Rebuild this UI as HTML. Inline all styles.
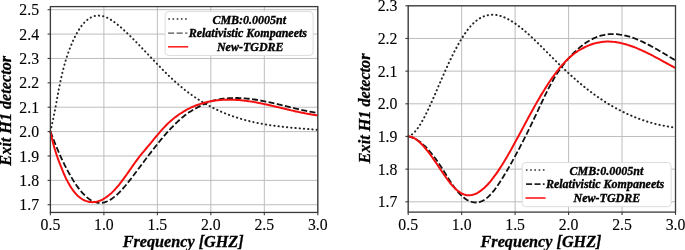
<!DOCTYPE html>
<html><head><meta charset="utf-8"><style>
html,body{margin:0;padding:0;background:#fff;}
body{width:685px;height:250px;overflow:hidden;}
svg{display:block;filter:blur(0.35px);}
.g{stroke:#bdbdbd;stroke-width:1;fill:none;}
.sp{fill:none;stroke:#3a3a3a;stroke-width:1.3;}
.tk{stroke:#3a3a3a;stroke-width:1.1;}
.tl{font-family:"Liberation Serif",serif;font-size:15.8px;fill:#000;stroke:#000;stroke-width:0.12;}
.at{font-family:"Liberation Serif",serif;font-size:16.2px;font-weight:bold;font-style:italic;fill:#000;stroke:#000;stroke-width:0.3;}
.lt{font-family:"Liberation Serif",serif;font-size:12px;font-weight:bold;font-style:italic;fill:#000;stroke:#000;stroke-width:0.35;}
.lg{fill:#fff;stroke:#dcdcdc;stroke-width:1;}
.dot{fill:none;stroke:#262626;stroke-width:2.0;stroke-dasharray:0.3 3.95;stroke-linecap:round;}
.dash{fill:none;stroke:#111;stroke-width:1.8;stroke-dasharray:6 2.4;}
.red{fill:none;stroke:#f51010;stroke-width:2.0;}
</style></head><body>
<svg width="685" height="250" viewBox="0 0 685 250">
<line x1="50.40" y1="6.60" x2="50.40" y2="212.45" class="g"/>
<line x1="103.88" y1="6.60" x2="103.88" y2="212.45" class="g"/>
<line x1="157.36" y1="6.60" x2="157.36" y2="212.45" class="g"/>
<line x1="210.84" y1="6.60" x2="210.84" y2="212.45" class="g"/>
<line x1="264.32" y1="6.60" x2="264.32" y2="212.45" class="g"/>
<line x1="317.80" y1="6.60" x2="317.80" y2="212.45" class="g"/>
<line x1="50.40" y1="9.70" x2="317.80" y2="9.70" class="g"/>
<line x1="50.40" y1="34.08" x2="317.80" y2="34.08" class="g"/>
<line x1="50.40" y1="58.46" x2="317.80" y2="58.46" class="g"/>
<line x1="50.40" y1="82.84" x2="317.80" y2="82.84" class="g"/>
<line x1="50.40" y1="107.22" x2="317.80" y2="107.22" class="g"/>
<line x1="50.40" y1="131.60" x2="317.80" y2="131.60" class="g"/>
<line x1="50.40" y1="155.98" x2="317.80" y2="155.98" class="g"/>
<line x1="50.40" y1="180.36" x2="317.80" y2="180.36" class="g"/>
<line x1="50.40" y1="204.74" x2="317.80" y2="204.74" class="g"/>
<line x1="408.20" y1="5.80" x2="408.20" y2="212.10" class="g"/>
<line x1="461.66" y1="5.80" x2="461.66" y2="212.10" class="g"/>
<line x1="515.12" y1="5.80" x2="515.12" y2="212.10" class="g"/>
<line x1="568.58" y1="5.80" x2="568.58" y2="212.10" class="g"/>
<line x1="622.04" y1="5.80" x2="622.04" y2="212.10" class="g"/>
<line x1="675.50" y1="5.80" x2="675.50" y2="212.10" class="g"/>
<line x1="408.20" y1="5.79" x2="675.50" y2="5.79" class="g"/>
<line x1="408.20" y1="38.46" x2="675.50" y2="38.46" class="g"/>
<line x1="408.20" y1="71.13" x2="675.50" y2="71.13" class="g"/>
<line x1="408.20" y1="103.80" x2="675.50" y2="103.80" class="g"/>
<line x1="408.20" y1="136.47" x2="675.50" y2="136.47" class="g"/>
<line x1="408.20" y1="169.14" x2="675.50" y2="169.14" class="g"/>
<line x1="408.20" y1="201.81" x2="675.50" y2="201.81" class="g"/>
<path d="M50.40,131.40 C50.65,130.31 51.40,127.13 51.90,124.88 C52.40,122.63 52.90,120.31 53.40,117.90 C53.90,115.50 54.40,113.02 54.90,110.46 C55.40,107.89 55.90,105.21 56.40,102.53 C56.90,99.85 57.40,97.05 57.90,94.38 C58.40,91.70 58.90,89.01 59.40,86.49 C59.90,83.97 60.40,81.55 60.90,79.26 C61.40,76.97 61.90,74.80 62.40,72.73 C62.90,70.66 63.40,68.70 63.90,66.83 C64.40,64.96 64.90,63.19 65.40,61.49 C65.90,59.80 66.40,58.20 66.90,56.66 C67.40,55.12 67.90,53.67 68.40,52.26 C68.90,50.86 69.40,49.53 69.90,48.24 C70.40,46.95 70.90,45.72 71.40,44.53 C71.90,43.33 72.40,42.18 72.90,41.08 C73.40,39.97 73.90,38.90 74.40,37.88 C74.90,36.85 75.40,35.87 75.90,34.93 C76.40,33.98 76.90,33.08 77.40,32.21 C77.90,31.35 78.40,30.52 78.90,29.73 C79.40,28.95 79.90,28.20 80.40,27.48 C80.90,26.77 81.40,26.09 81.90,25.45 C82.40,24.80 82.90,24.20 83.40,23.63 C83.90,23.05 84.40,22.51 84.90,22.01 C85.40,21.50 85.90,21.03 86.40,20.59 C86.90,20.15 87.40,19.75 87.90,19.37 C88.40,18.99 88.90,18.65 89.40,18.33 C89.90,18.01 90.40,17.73 90.90,17.47 C91.40,17.21 91.90,16.98 92.40,16.78 C92.90,16.58 93.40,16.40 93.90,16.26 C94.40,16.11 94.90,15.99 95.40,15.89 C95.90,15.80 96.40,15.73 96.90,15.68 C97.40,15.63 97.90,15.61 98.40,15.61 C98.90,15.61 99.40,15.64 99.90,15.68 C100.40,15.73 100.90,15.80 101.40,15.88 C101.90,15.97 102.40,16.08 102.90,16.21 C103.40,16.34 103.90,16.49 104.40,16.65 C104.90,16.82 105.40,17.01 105.90,17.21 C106.40,17.41 106.90,17.63 107.40,17.87 C107.90,18.11 108.40,18.36 108.90,18.63 C109.40,18.90 109.90,19.18 110.40,19.48 C110.90,19.77 111.40,20.09 111.90,20.41 C112.40,20.73 112.90,21.07 113.40,21.42 C113.90,21.77 114.40,22.13 114.90,22.50 C115.40,22.87 115.90,23.26 116.40,23.65 C116.90,24.04 117.40,24.44 117.90,24.85 C118.40,25.26 118.90,25.68 119.40,26.10 C119.90,26.53 120.40,26.96 120.90,27.40 C121.40,27.84 121.90,28.28 122.40,28.73 C122.90,29.18 123.40,29.64 123.90,30.10 C124.40,30.56 124.90,31.02 125.40,31.49 C125.90,31.95 126.40,32.42 126.90,32.90 C127.40,33.37 127.90,33.85 128.40,34.33 C128.90,34.81 129.40,35.30 129.90,35.78 C130.40,36.27 130.90,36.76 131.40,37.26 C131.90,37.75 132.40,38.25 132.90,38.75 C133.40,39.25 133.90,39.75 134.40,40.25 C134.90,40.76 135.40,41.26 135.90,41.77 C136.40,42.28 136.90,42.79 137.40,43.30 C137.90,43.81 138.40,44.33 138.90,44.85 C139.40,45.36 139.90,45.88 140.40,46.40 C140.90,46.92 141.40,47.44 141.90,47.96 C142.40,48.48 142.90,49.00 143.40,49.53 C143.90,50.05 144.40,50.58 144.90,51.10 C145.40,51.63 145.90,52.15 146.40,52.68 C146.90,53.20 147.40,53.73 147.90,54.26 C148.40,54.78 148.90,55.31 149.40,55.84 C149.90,56.37 150.40,56.89 150.90,57.42 C151.40,57.94 151.90,58.47 152.40,59.00 C152.90,59.52 153.40,60.05 153.90,60.57 C154.40,61.10 154.90,61.62 155.40,62.14 C155.90,62.66 156.40,63.18 156.90,63.70 C157.40,64.22 157.90,64.74 158.40,65.26 C158.90,65.78 159.40,66.29 159.90,66.80 C160.40,67.32 160.90,67.83 161.40,68.34 C161.90,68.85 162.40,69.36 162.90,69.86 C163.40,70.37 163.90,70.87 164.40,71.37 C164.90,71.87 165.40,72.37 165.90,72.87 C166.40,73.36 166.90,73.85 167.40,74.34 C167.90,74.83 168.40,75.32 168.90,75.80 C169.40,76.28 169.90,76.76 170.40,77.24 C170.90,77.72 171.40,78.19 171.90,78.66 C172.40,79.13 172.90,79.59 173.40,80.05 C173.90,80.51 174.40,80.97 174.90,81.42 C175.40,81.88 175.90,82.32 176.40,82.77 C176.90,83.21 177.40,83.65 177.90,84.09 C178.40,84.52 178.90,84.95 179.40,85.38 C179.90,85.80 180.40,86.23 180.90,86.64 C181.40,87.06 181.90,87.47 182.40,87.88 C182.90,88.29 183.40,88.69 183.90,89.09 C184.40,89.49 184.90,89.89 185.40,90.28 C185.90,90.67 186.40,91.06 186.90,91.44 C187.40,91.82 187.90,92.20 188.40,92.58 C188.90,92.95 189.40,93.32 189.90,93.69 C190.40,94.06 190.90,94.42 191.40,94.78 C191.90,95.13 192.40,95.49 192.90,95.84 C193.40,96.19 193.90,96.53 194.40,96.88 C194.90,97.22 195.40,97.56 195.90,97.89 C196.40,98.23 196.90,98.56 197.40,98.88 C197.90,99.21 198.40,99.53 198.90,99.85 C199.40,100.17 199.90,100.49 200.40,100.80 C200.90,101.11 201.40,101.42 201.90,101.72 C202.40,102.02 202.90,102.32 203.40,102.62 C203.90,102.92 204.40,103.21 204.90,103.50 C205.40,103.79 205.90,104.08 206.40,104.36 C206.90,104.64 207.40,104.92 207.90,105.20 C208.40,105.47 208.90,105.74 209.40,106.01 C209.90,106.28 210.40,106.54 210.90,106.81 C211.40,107.07 211.90,107.33 212.40,107.58 C212.90,107.84 213.40,108.09 213.90,108.34 C214.40,108.58 214.90,108.83 215.40,109.07 C215.90,109.31 216.40,109.55 216.90,109.79 C217.40,110.02 217.90,110.26 218.40,110.48 C218.90,110.71 219.40,110.94 219.90,111.16 C220.40,111.39 220.90,111.61 221.40,111.82 C221.90,112.04 222.40,112.25 222.90,112.46 C223.40,112.68 223.90,112.88 224.40,113.09 C224.90,113.29 225.40,113.50 225.90,113.70 C226.40,113.89 226.90,114.09 227.40,114.28 C227.90,114.48 228.40,114.67 228.90,114.86 C229.40,115.05 229.90,115.23 230.40,115.41 C230.90,115.60 231.40,115.78 231.90,115.95 C232.40,116.13 232.90,116.30 233.40,116.48 C233.90,116.65 234.40,116.82 234.90,116.98 C235.40,117.15 235.90,117.32 236.40,117.48 C236.90,117.64 237.40,117.80 237.90,117.95 C238.40,118.11 238.90,118.27 239.40,118.42 C239.90,118.57 240.40,118.72 240.90,118.87 C241.40,119.01 241.90,119.16 242.40,119.30 C242.90,119.44 243.40,119.58 243.90,119.72 C244.40,119.86 244.90,119.99 245.40,120.13 C245.90,120.26 246.40,120.39 246.90,120.52 C247.40,120.65 247.90,120.78 248.40,120.90 C248.90,121.03 249.40,121.15 249.90,121.27 C250.40,121.39 250.90,121.51 251.40,121.63 C251.90,121.74 252.40,121.86 252.90,121.97 C253.40,122.08 253.90,122.19 254.40,122.30 C254.90,122.41 255.40,122.52 255.90,122.62 C256.40,122.73 256.90,122.83 257.40,122.93 C257.90,123.03 258.40,123.13 258.90,123.23 C259.40,123.33 259.90,123.43 260.40,123.52 C260.90,123.61 261.40,123.71 261.90,123.80 C262.40,123.89 262.90,123.98 263.40,124.07 C263.90,124.15 264.40,124.24 264.90,124.33 C265.40,124.41 265.90,124.49 266.40,124.58 C266.90,124.66 267.40,124.74 267.90,124.82 C268.40,124.90 268.90,124.97 269.40,125.05 C269.90,125.13 270.40,125.20 270.90,125.27 C271.40,125.35 271.90,125.42 272.40,125.49 C272.90,125.56 273.40,125.63 273.90,125.70 C274.40,125.77 274.90,125.83 275.40,125.90 C275.90,125.96 276.40,126.03 276.90,126.09 C277.40,126.16 277.90,126.22 278.40,126.28 C278.90,126.34 279.40,126.40 279.90,126.46 C280.40,126.52 280.90,126.58 281.40,126.63 C281.90,126.69 282.40,126.75 282.90,126.80 C283.40,126.86 283.90,126.91 284.40,126.97 C284.90,127.02 285.40,127.07 285.90,127.12 C286.40,127.18 286.90,127.23 287.40,127.28 C287.90,127.33 288.40,127.38 288.90,127.43 C289.40,127.47 289.90,127.52 290.40,127.57 C290.90,127.62 291.40,127.66 291.90,127.71 C292.40,127.76 292.90,127.80 293.40,127.85 C293.90,127.89 294.40,127.93 294.90,127.98 C295.40,128.02 295.90,128.06 296.40,128.11 C296.90,128.15 297.40,128.19 297.90,128.23 C298.40,128.28 298.90,128.32 299.40,128.36 C299.90,128.40 300.40,128.44 300.90,128.48 C301.40,128.52 301.90,128.56 302.40,128.60 C302.90,128.64 303.40,128.68 303.90,128.72 C304.40,128.76 304.90,128.80 305.40,128.84 C305.90,128.88 306.40,128.92 306.90,128.95 C307.40,128.99 307.90,129.03 308.40,129.07 C308.90,129.11 309.40,129.15 309.90,129.19 C310.40,129.22 310.90,129.26 311.40,129.30 C311.90,129.34 312.40,129.38 312.90,129.42 C313.40,129.46 313.90,129.50 314.40,129.53 C314.90,129.57 315.40,129.61 315.90,129.65 C316.40,129.69 317.08,129.75 317.40,129.77 C317.72,129.80 317.73,129.80 317.80,129.80" class="dot"/>
<path d="M50.40,131.40 C50.65,132.06 51.40,134.08 51.90,135.39 C52.40,136.70 52.90,137.99 53.40,139.26 C53.90,140.53 54.40,141.79 54.90,143.03 C55.40,144.27 55.90,145.48 56.40,146.69 C56.90,147.89 57.40,149.07 57.90,150.24 C58.40,151.40 58.90,152.55 59.40,153.68 C59.90,154.81 60.40,155.92 60.90,157.01 C61.40,158.11 61.90,159.19 62.40,160.24 C62.90,161.30 63.40,162.34 63.90,163.37 C64.40,164.39 64.90,165.40 65.40,166.38 C65.90,167.37 66.40,168.34 66.90,169.29 C67.40,170.24 67.90,171.18 68.40,172.10 C68.90,173.01 69.40,173.91 69.90,174.79 C70.40,175.67 70.90,176.53 71.40,177.38 C71.90,178.22 72.40,179.05 72.90,179.86 C73.40,180.67 73.90,181.46 74.40,182.23 C74.90,183.00 75.40,183.75 75.90,184.49 C76.40,185.22 76.90,185.93 77.40,186.63 C77.90,187.32 78.40,187.99 78.90,188.65 C79.40,189.30 79.90,189.93 80.40,190.54 C80.90,191.16 81.40,191.75 81.90,192.32 C82.40,192.89 82.90,193.43 83.40,193.96 C83.90,194.49 84.40,194.99 84.90,195.47 C85.40,195.96 85.90,196.42 86.40,196.85 C86.90,197.29 87.40,197.71 87.90,198.10 C88.40,198.49 88.90,198.86 89.40,199.20 C89.90,199.54 90.40,199.86 90.90,200.16 C91.40,200.46 91.90,200.73 92.40,200.97 C92.90,201.22 93.40,201.44 93.90,201.64 C94.40,201.84 94.90,202.01 95.40,202.16 C95.90,202.30 96.40,202.43 96.90,202.53 C97.40,202.63 97.90,202.70 98.40,202.75 C98.90,202.81 99.40,202.83 99.90,202.84 C100.40,202.85 100.90,202.83 101.40,202.79 C101.90,202.75 102.40,202.68 102.90,202.60 C103.40,202.51 103.90,202.40 104.40,202.27 C104.90,202.14 105.40,201.99 105.90,201.81 C106.40,201.64 106.90,201.44 107.40,201.23 C107.90,201.01 108.40,200.77 108.90,200.51 C109.40,200.25 109.90,199.97 110.40,199.67 C110.90,199.37 111.40,199.05 111.90,198.71 C112.40,198.38 112.90,198.02 113.40,197.64 C113.90,197.27 114.40,196.87 114.90,196.46 C115.40,196.05 115.90,195.62 116.40,195.18 C116.90,194.73 117.40,194.27 117.90,193.80 C118.40,193.33 118.90,192.84 119.40,192.33 C119.90,191.83 120.40,191.31 120.90,190.78 C121.40,190.25 121.90,189.71 122.40,189.16 C122.90,188.60 123.40,188.04 123.90,187.46 C124.40,186.89 124.90,186.30 125.40,185.71 C125.90,185.11 126.40,184.51 126.90,183.89 C127.40,183.28 127.90,182.66 128.40,182.03 C128.90,181.41 129.40,180.77 129.90,180.13 C130.40,179.49 130.90,178.84 131.40,178.19 C131.90,177.54 132.40,176.89 132.90,176.23 C133.40,175.57 133.90,174.91 134.40,174.25 C134.90,173.58 135.40,172.92 135.90,172.25 C136.40,171.59 136.90,170.92 137.40,170.25 C137.90,169.58 138.40,168.91 138.90,168.25 C139.40,167.58 139.90,166.91 140.40,166.24 C140.90,165.58 141.40,164.91 141.90,164.24 C142.40,163.58 142.90,162.91 143.40,162.24 C143.90,161.58 144.40,160.92 144.90,160.25 C145.40,159.59 145.90,158.93 146.40,158.27 C146.90,157.61 147.40,156.95 147.90,156.29 C148.40,155.63 148.90,154.98 149.40,154.32 C149.90,153.67 150.40,153.02 150.90,152.37 C151.40,151.72 151.90,151.07 152.40,150.43 C152.90,149.78 153.40,149.14 153.90,148.50 C154.40,147.86 154.90,147.23 155.40,146.59 C155.90,145.96 156.40,145.33 156.90,144.71 C157.40,144.08 157.90,143.46 158.40,142.84 C158.90,142.22 159.40,141.61 159.90,141.00 C160.40,140.38 160.90,139.78 161.40,139.18 C161.90,138.58 162.40,137.98 162.90,137.39 C163.40,136.79 163.90,136.20 164.40,135.62 C164.90,135.04 165.40,134.46 165.90,133.89 C166.40,133.32 166.90,132.75 167.40,132.19 C167.90,131.63 168.40,131.08 168.90,130.53 C169.40,129.98 169.90,129.43 170.40,128.90 C170.90,128.36 171.40,127.83 171.90,127.31 C172.40,126.78 172.90,126.27 173.40,125.76 C173.90,125.25 174.40,124.74 174.90,124.25 C175.40,123.75 175.90,123.27 176.40,122.78 C176.90,122.30 177.40,121.83 177.90,121.37 C178.40,120.90 178.90,120.44 179.40,119.99 C179.90,119.55 180.40,119.11 180.90,118.67 C181.40,118.24 181.90,117.82 182.40,117.40 C182.90,116.99 183.40,116.58 183.90,116.19 C184.40,115.79 184.90,115.40 185.40,115.02 C185.90,114.65 186.40,114.28 186.90,113.92 C187.40,113.56 187.90,113.20 188.40,112.86 C188.90,112.51 189.40,112.18 189.90,111.85 C190.40,111.52 190.90,111.20 191.40,110.89 C191.90,110.57 192.40,110.27 192.90,109.97 C193.40,109.66 193.90,109.37 194.40,109.08 C194.90,108.80 195.40,108.51 195.90,108.24 C196.40,107.96 196.90,107.69 197.40,107.43 C197.90,107.16 198.40,106.90 198.90,106.64 C199.40,106.39 199.90,106.14 200.40,105.89 C200.90,105.64 201.40,105.40 201.90,105.16 C202.40,104.92 202.90,104.68 203.40,104.45 C203.90,104.22 204.40,103.99 204.90,103.76 C205.40,103.53 205.90,103.31 206.40,103.10 C206.90,102.88 207.40,102.67 207.90,102.47 C208.40,102.27 208.90,102.08 209.40,101.89 C209.90,101.71 210.40,101.54 210.90,101.37 C211.40,101.20 211.90,101.05 212.40,100.90 C212.90,100.75 213.40,100.61 213.90,100.48 C214.40,100.34 214.90,100.22 215.40,100.10 C215.90,99.98 216.40,99.87 216.90,99.76 C217.40,99.65 217.90,99.55 218.40,99.46 C218.90,99.37 219.40,99.28 219.90,99.19 C220.40,99.11 220.90,99.03 221.40,98.96 C221.90,98.88 222.40,98.81 222.90,98.75 C223.40,98.68 223.90,98.62 224.40,98.56 C224.90,98.51 225.40,98.46 225.90,98.41 C226.40,98.36 226.90,98.32 227.40,98.28 C227.90,98.24 228.40,98.20 228.90,98.17 C229.40,98.14 229.90,98.11 230.40,98.09 C230.90,98.06 231.40,98.04 231.90,98.03 C232.40,98.01 232.90,98.00 233.40,97.99 C233.90,97.98 234.40,97.98 234.90,97.97 C235.40,97.97 235.90,97.98 236.40,97.98 C236.90,97.99 237.40,98.00 237.90,98.01 C238.40,98.02 238.90,98.04 239.40,98.06 C239.90,98.08 240.40,98.10 240.90,98.12 C241.40,98.15 241.90,98.18 242.40,98.21 C242.90,98.24 243.40,98.28 243.90,98.31 C244.40,98.35 244.90,98.39 245.40,98.44 C245.90,98.48 246.40,98.53 246.90,98.58 C247.40,98.63 247.90,98.68 248.40,98.73 C248.90,98.79 249.40,98.85 249.90,98.91 C250.40,98.97 250.90,99.03 251.40,99.09 C251.90,99.16 252.40,99.22 252.90,99.29 C253.40,99.36 253.90,99.44 254.40,99.51 C254.90,99.58 255.40,99.66 255.90,99.74 C256.40,99.82 256.90,99.90 257.40,99.98 C257.90,100.06 258.40,100.15 258.90,100.24 C259.40,100.32 259.90,100.41 260.40,100.50 C260.90,100.59 261.40,100.68 261.90,100.78 C262.40,100.87 262.90,100.97 263.40,101.06 C263.90,101.16 264.40,101.26 264.90,101.36 C265.40,101.46 265.90,101.56 266.40,101.67 C266.90,101.77 267.40,101.87 267.90,101.98 C268.40,102.09 268.90,102.19 269.40,102.30 C269.90,102.41 270.40,102.52 270.90,102.63 C271.40,102.74 271.90,102.85 272.40,102.96 C272.90,103.08 273.40,103.19 273.90,103.31 C274.40,103.42 274.90,103.54 275.40,103.65 C275.90,103.77 276.40,103.89 276.90,104.00 C277.40,104.12 277.90,104.24 278.40,104.36 C278.90,104.48 279.40,104.60 279.90,104.72 C280.40,104.84 280.90,104.96 281.40,105.08 C281.90,105.20 282.40,105.32 282.90,105.44 C283.40,105.56 283.90,105.68 284.40,105.80 C284.90,105.93 285.40,106.05 285.90,106.17 C286.40,106.29 286.90,106.41 287.40,106.54 C287.90,106.66 288.40,106.78 288.90,106.90 C289.40,107.02 289.90,107.14 290.40,107.26 C290.90,107.39 291.40,107.51 291.90,107.63 C292.40,107.75 292.90,107.87 293.40,107.99 C293.90,108.11 294.40,108.23 294.90,108.35 C295.40,108.46 295.90,108.58 296.40,108.70 C296.90,108.82 297.40,108.93 297.90,109.05 C298.40,109.16 298.90,109.28 299.40,109.39 C299.90,109.51 300.40,109.62 300.90,109.73 C301.40,109.85 301.90,109.96 302.40,110.07 C302.90,110.18 303.40,110.29 303.90,110.39 C304.40,110.50 304.90,110.61 305.40,110.71 C305.90,110.82 306.40,110.92 306.90,111.03 C307.40,111.13 307.90,111.23 308.40,111.33 C308.90,111.43 309.40,111.53 309.90,111.62 C310.40,111.72 310.90,111.82 311.40,111.91 C311.90,112.00 312.40,112.09 312.90,112.18 C313.40,112.27 313.90,112.36 314.40,112.45 C314.90,112.53 315.40,112.62 315.90,112.70 C316.40,112.78 317.08,112.89 317.40,112.94 C317.72,112.99 317.73,112.99 317.80,113.00" class="dash"/>
<path d="M50.40,131.40 C50.65,132.54 51.40,136.09 51.90,138.23 C52.40,140.36 52.90,142.33 53.40,144.21 C53.90,146.09 54.40,147.82 54.90,149.49 C55.40,151.16 55.90,152.71 56.40,154.22 C56.90,155.73 57.40,157.15 57.90,158.54 C58.40,159.94 58.90,161.27 59.40,162.59 C59.90,163.92 60.40,165.21 60.90,166.48 C61.40,167.75 61.90,169.00 62.40,170.20 C62.90,171.41 63.40,172.60 63.90,173.74 C64.40,174.89 64.90,176.00 65.40,177.07 C65.90,178.14 66.40,179.18 66.90,180.17 C67.40,181.16 67.90,182.12 68.40,183.03 C68.90,183.94 69.40,184.81 69.90,185.64 C70.40,186.48 70.90,187.27 71.40,188.03 C71.90,188.78 72.40,189.50 72.90,190.19 C73.40,190.87 73.90,191.52 74.40,192.14 C74.90,192.75 75.40,193.33 75.90,193.88 C76.40,194.43 76.90,194.94 77.40,195.43 C77.90,195.91 78.40,196.37 78.90,196.79 C79.40,197.22 79.90,197.61 80.40,197.98 C80.90,198.34 81.40,198.68 81.90,199.00 C82.40,199.31 82.90,199.60 83.40,199.86 C83.90,200.12 84.40,200.36 84.90,200.57 C85.40,200.79 85.90,200.98 86.40,201.15 C86.90,201.32 87.40,201.46 87.90,201.59 C88.40,201.71 88.90,201.82 89.40,201.90 C89.90,201.99 90.40,202.05 90.90,202.09 C91.40,202.13 91.90,202.16 92.40,202.16 C92.90,202.16 93.40,202.14 93.90,202.10 C94.40,202.06 94.90,202.00 95.40,201.92 C95.90,201.84 96.40,201.75 96.90,201.63 C97.40,201.51 97.90,201.37 98.40,201.22 C98.90,201.06 99.40,200.88 99.90,200.69 C100.40,200.50 100.90,200.28 101.40,200.05 C101.90,199.82 102.40,199.57 102.90,199.30 C103.40,199.04 103.90,198.75 104.40,198.45 C104.90,198.15 105.40,197.82 105.90,197.49 C106.40,197.15 106.90,196.79 107.40,196.42 C107.90,196.05 108.40,195.66 108.90,195.25 C109.40,194.84 109.90,194.42 110.40,193.98 C110.90,193.54 111.40,193.09 111.90,192.61 C112.40,192.14 112.90,191.65 113.40,191.15 C113.90,190.65 114.40,190.13 114.90,189.59 C115.40,189.06 115.90,188.51 116.40,187.94 C116.90,187.37 117.40,186.79 117.90,186.20 C118.40,185.60 118.90,184.99 119.40,184.37 C119.90,183.74 120.40,183.11 120.90,182.46 C121.40,181.81 121.90,181.14 122.40,180.47 C122.90,179.80 123.40,179.12 123.90,178.43 C124.40,177.74 124.90,177.04 125.40,176.33 C125.90,175.63 126.40,174.92 126.90,174.21 C127.40,173.49 127.90,172.78 128.40,172.06 C128.90,171.34 129.40,170.62 129.90,169.90 C130.40,169.18 130.90,168.45 131.40,167.73 C131.90,167.02 132.40,166.30 132.90,165.59 C133.40,164.87 133.90,164.17 134.40,163.46 C134.90,162.76 135.40,162.07 135.90,161.38 C136.40,160.69 136.90,160.01 137.40,159.34 C137.90,158.67 138.40,158.01 138.90,157.37 C139.40,156.72 139.90,156.09 140.40,155.46 C140.90,154.84 141.40,154.22 141.90,153.61 C142.40,153.01 142.90,152.41 143.40,151.81 C143.90,151.21 144.40,150.62 144.90,150.03 C145.40,149.44 145.90,148.85 146.40,148.26 C146.90,147.67 147.40,147.08 147.90,146.48 C148.40,145.89 148.90,145.29 149.40,144.68 C149.90,144.08 150.40,143.47 150.90,142.87 C151.40,142.26 151.90,141.65 152.40,141.04 C152.90,140.43 153.40,139.82 153.90,139.21 C154.40,138.61 154.90,138.00 155.40,137.39 C155.90,136.79 156.40,136.19 156.90,135.59 C157.40,134.99 157.90,134.39 158.40,133.81 C158.90,133.22 159.40,132.63 159.90,132.05 C160.40,131.48 160.90,130.91 161.40,130.34 C161.90,129.78 162.40,129.23 162.90,128.68 C163.40,128.13 163.90,127.60 164.40,127.07 C164.90,126.55 165.40,126.03 165.90,125.53 C166.40,125.02 166.90,124.53 167.40,124.05 C167.90,123.57 168.40,123.09 168.90,122.63 C169.40,122.17 169.90,121.71 170.40,121.27 C170.90,120.83 171.40,120.39 171.90,119.97 C172.40,119.55 172.90,119.13 173.40,118.73 C173.90,118.32 174.40,117.92 174.90,117.53 C175.40,117.15 175.90,116.77 176.40,116.40 C176.90,116.02 177.40,115.66 177.90,115.31 C178.40,114.95 178.90,114.61 179.40,114.27 C179.90,113.93 180.40,113.60 180.90,113.27 C181.40,112.95 181.90,112.63 182.40,112.32 C182.90,112.01 183.40,111.71 183.90,111.41 C184.40,111.12 184.90,110.83 185.40,110.55 C185.90,110.26 186.40,109.99 186.90,109.72 C187.40,109.45 187.90,109.18 188.40,108.93 C188.90,108.67 189.40,108.42 189.90,108.17 C190.40,107.93 190.90,107.69 191.40,107.46 C191.90,107.23 192.40,107.00 192.90,106.78 C193.40,106.56 193.90,106.34 194.40,106.14 C194.90,105.93 195.40,105.72 195.90,105.53 C196.40,105.33 196.90,105.14 197.40,104.95 C197.90,104.77 198.40,104.59 198.90,104.41 C199.40,104.24 199.90,104.07 200.40,103.91 C200.90,103.74 201.40,103.58 201.90,103.43 C202.40,103.28 202.90,103.13 203.40,102.99 C203.90,102.84 204.40,102.71 204.90,102.57 C205.40,102.44 205.90,102.31 206.40,102.19 C206.90,102.07 207.40,101.95 207.90,101.84 C208.40,101.73 208.90,101.62 209.40,101.52 C209.90,101.41 210.40,101.31 210.90,101.22 C211.40,101.13 211.90,101.04 212.40,100.95 C212.90,100.87 213.40,100.79 213.90,100.71 C214.40,100.63 214.90,100.56 215.40,100.50 C215.90,100.43 216.40,100.37 216.90,100.31 C217.40,100.25 217.90,100.19 218.40,100.14 C218.90,100.09 219.40,100.04 219.90,100.00 C220.40,99.96 220.90,99.92 221.40,99.89 C221.90,99.85 222.40,99.82 222.90,99.79 C223.40,99.76 223.90,99.74 224.40,99.72 C224.90,99.70 225.40,99.68 225.90,99.67 C226.40,99.66 226.90,99.65 227.40,99.64 C227.90,99.64 228.40,99.63 228.90,99.63 C229.40,99.63 229.90,99.64 230.40,99.65 C230.90,99.65 231.40,99.66 231.90,99.68 C232.40,99.69 232.90,99.71 233.40,99.73 C233.90,99.75 234.40,99.77 234.90,99.80 C235.40,99.82 235.90,99.85 236.40,99.89 C236.90,99.92 237.40,99.95 237.90,99.99 C238.40,100.03 238.90,100.07 239.40,100.11 C239.90,100.15 240.40,100.20 240.90,100.25 C241.40,100.30 241.90,100.35 242.40,100.40 C242.90,100.46 243.40,100.51 243.90,100.57 C244.40,100.63 244.90,100.69 245.40,100.75 C245.90,100.82 246.40,100.88 246.90,100.95 C247.40,101.02 247.90,101.09 248.40,101.16 C248.90,101.23 249.40,101.30 249.90,101.38 C250.40,101.46 250.90,101.53 251.40,101.61 C251.90,101.69 252.40,101.78 252.90,101.86 C253.40,101.94 253.90,102.03 254.40,102.12 C254.90,102.21 255.40,102.29 255.90,102.39 C256.40,102.48 256.90,102.57 257.40,102.66 C257.90,102.76 258.40,102.85 258.90,102.95 C259.40,103.05 259.90,103.15 260.40,103.24 C260.90,103.34 261.40,103.45 261.90,103.55 C262.40,103.65 262.90,103.76 263.40,103.86 C263.90,103.96 264.40,104.07 264.90,104.18 C265.40,104.29 265.90,104.39 266.40,104.50 C266.90,104.61 267.40,104.72 267.90,104.83 C268.40,104.94 268.90,105.06 269.40,105.17 C269.90,105.28 270.40,105.40 270.90,105.51 C271.40,105.63 271.90,105.74 272.40,105.86 C272.90,105.97 273.40,106.09 273.90,106.20 C274.40,106.32 274.90,106.44 275.40,106.56 C275.90,106.67 276.40,106.79 276.90,106.91 C277.40,107.03 277.90,107.15 278.40,107.27 C278.90,107.39 279.40,107.51 279.90,107.62 C280.40,107.74 280.90,107.86 281.40,107.98 C281.90,108.10 282.40,108.22 282.90,108.34 C283.40,108.46 283.90,108.58 284.40,108.70 C284.90,108.82 285.40,108.94 285.90,109.06 C286.40,109.18 286.90,109.29 287.40,109.41 C287.90,109.53 288.40,109.65 288.90,109.77 C289.40,109.88 289.90,110.00 290.40,110.12 C290.90,110.23 291.40,110.35 291.90,110.47 C292.40,110.58 292.90,110.70 293.40,110.81 C293.90,110.92 294.40,111.04 294.90,111.15 C295.40,111.26 295.90,111.37 296.40,111.49 C296.90,111.60 297.40,111.71 297.90,111.82 C298.40,111.92 298.90,112.03 299.40,112.14 C299.90,112.25 300.40,112.35 300.90,112.46 C301.40,112.56 301.90,112.66 302.40,112.77 C302.90,112.87 303.40,112.97 303.90,113.07 C304.40,113.17 304.90,113.27 305.40,113.36 C305.90,113.46 306.40,113.55 306.90,113.65 C307.40,113.74 307.90,113.83 308.40,113.92 C308.90,114.01 309.40,114.10 309.90,114.19 C310.40,114.27 310.90,114.36 311.40,114.44 C311.90,114.53 312.40,114.61 312.90,114.69 C313.40,114.77 313.90,114.84 314.40,114.92 C314.90,114.99 315.40,115.07 315.90,115.14 C316.40,115.21 317.08,115.30 317.40,115.35 C317.72,115.39 317.73,115.39 317.80,115.40" class="red"/>
<path d="M408.20,136.41 C408.45,136.32 409.20,136.11 409.70,135.88 C410.20,135.65 410.70,135.37 411.20,135.04 C411.70,134.71 412.20,134.33 412.70,133.91 C413.20,133.49 413.70,133.02 414.20,132.51 C414.70,132.00 415.20,131.45 415.70,130.86 C416.20,130.27 416.70,129.63 417.20,128.96 C417.70,128.30 418.20,127.59 418.70,126.85 C419.20,126.11 419.70,125.34 420.20,124.53 C420.70,123.73 421.20,122.89 421.70,122.03 C422.20,121.16 422.70,120.27 423.20,119.35 C423.70,118.43 424.20,117.49 424.70,116.52 C425.20,115.56 425.70,114.57 426.20,113.56 C426.70,112.55 427.20,111.52 427.70,110.48 C428.20,109.43 428.70,108.37 429.20,107.29 C429.70,106.22 430.20,105.13 430.70,104.02 C431.20,102.92 431.70,101.81 432.20,100.69 C432.70,99.56 433.20,98.43 433.70,97.29 C434.20,96.15 434.70,95.00 435.20,93.85 C435.70,92.70 436.20,91.54 436.70,90.39 C437.20,89.23 437.70,88.06 438.20,86.90 C438.70,85.74 439.20,84.58 439.70,83.42 C440.20,82.26 440.70,81.10 441.20,79.94 C441.70,78.79 442.20,77.63 442.70,76.49 C443.20,75.35 443.70,74.21 444.20,73.08 C444.70,71.95 445.20,70.82 445.70,69.71 C446.20,68.60 446.70,67.50 447.20,66.41 C447.70,65.32 448.20,64.24 448.70,63.18 C449.20,62.11 449.70,61.05 450.20,60.01 C450.70,58.97 451.20,57.94 451.70,56.92 C452.20,55.90 452.70,54.90 453.20,53.91 C453.70,52.92 454.20,51.94 454.70,50.98 C455.20,50.02 455.70,49.07 456.20,48.14 C456.70,47.21 457.20,46.29 457.70,45.39 C458.20,44.49 458.70,43.61 459.20,42.74 C459.70,41.88 460.20,41.03 460.70,40.19 C461.20,39.36 461.70,38.55 462.20,37.75 C462.70,36.96 463.20,36.18 463.70,35.42 C464.20,34.66 464.70,33.93 465.20,33.21 C465.70,32.49 466.20,31.79 466.70,31.11 C467.20,30.43 467.70,29.78 468.20,29.14 C468.70,28.50 469.20,27.89 469.70,27.30 C470.20,26.71 470.70,26.14 471.20,25.59 C471.70,25.04 472.20,24.52 472.70,24.02 C473.20,23.51 473.70,23.04 474.20,22.58 C474.70,22.12 475.20,21.69 475.70,21.27 C476.20,20.86 476.70,20.47 477.20,20.10 C477.70,19.73 478.20,19.38 478.70,19.05 C479.20,18.72 479.70,18.41 480.20,18.12 C480.70,17.83 481.20,17.56 481.70,17.31 C482.20,17.06 482.70,16.83 483.20,16.62 C483.70,16.41 484.20,16.22 484.70,16.04 C485.20,15.87 485.70,15.71 486.20,15.58 C486.70,15.44 487.20,15.32 487.70,15.21 C488.20,15.11 488.70,15.02 489.20,14.95 C489.70,14.88 490.20,14.83 490.70,14.79 C491.20,14.76 491.70,14.74 492.20,14.73 C492.70,14.73 493.20,14.74 493.70,14.76 C494.20,14.79 494.70,14.83 495.20,14.88 C495.70,14.94 496.20,15.01 496.70,15.09 C497.20,15.17 497.70,15.27 498.20,15.38 C498.70,15.49 499.20,15.62 499.70,15.76 C500.20,15.89 500.70,16.04 501.20,16.21 C501.70,16.37 502.20,16.54 502.70,16.73 C503.20,16.92 503.70,17.11 504.20,17.32 C504.70,17.53 505.20,17.76 505.70,17.99 C506.20,18.22 506.70,18.46 507.20,18.71 C507.70,18.97 508.20,19.23 508.70,19.50 C509.20,19.77 509.70,20.06 510.20,20.35 C510.70,20.64 511.20,20.94 511.70,21.25 C512.20,21.56 512.70,21.87 513.20,22.20 C513.70,22.53 514.20,22.86 514.70,23.20 C515.20,23.54 515.70,23.89 516.20,24.25 C516.70,24.60 517.20,24.96 517.70,25.33 C518.20,25.70 518.70,26.08 519.20,26.47 C519.70,26.85 520.20,27.24 520.70,27.63 C521.20,28.03 521.70,28.43 522.20,28.84 C522.70,29.25 523.20,29.66 523.70,30.08 C524.20,30.50 524.70,30.93 525.20,31.36 C525.70,31.79 526.20,32.22 526.70,32.66 C527.20,33.10 527.70,33.55 528.20,33.99 C528.70,34.44 529.20,34.90 529.70,35.35 C530.20,35.81 530.70,36.27 531.20,36.74 C531.70,37.20 532.20,37.67 532.70,38.14 C533.20,38.62 533.70,39.09 534.20,39.57 C534.70,40.05 535.20,40.53 535.70,41.01 C536.20,41.50 536.70,41.98 537.20,42.47 C537.70,42.96 538.20,43.45 538.70,43.95 C539.20,44.44 539.70,44.93 540.20,45.43 C540.70,45.93 541.20,46.43 541.70,46.93 C542.20,47.42 542.70,47.93 543.20,48.43 C543.70,48.93 544.20,49.43 544.70,49.93 C545.20,50.44 545.70,50.94 546.20,51.44 C546.70,51.95 547.20,52.45 547.70,52.95 C548.20,53.46 548.70,53.96 549.20,54.46 C549.70,54.97 550.20,55.47 550.70,55.97 C551.20,56.47 551.70,56.97 552.20,57.47 C552.70,57.97 553.20,58.47 553.70,58.96 C554.20,59.46 554.70,59.95 555.20,60.45 C555.70,60.94 556.20,61.43 556.70,61.92 C557.20,62.42 557.70,62.90 558.20,63.39 C558.70,63.88 559.20,64.37 559.70,64.85 C560.20,65.33 560.70,65.82 561.20,66.30 C561.70,66.78 562.20,67.26 562.70,67.73 C563.20,68.21 563.70,68.69 564.20,69.16 C564.70,69.63 565.20,70.10 565.70,70.57 C566.20,71.04 566.70,71.51 567.20,71.97 C567.70,72.44 568.20,72.90 568.70,73.36 C569.20,73.82 569.70,74.28 570.20,74.74 C570.70,75.19 571.20,75.65 571.70,76.10 C572.20,76.55 572.70,77.00 573.20,77.44 C573.70,77.89 574.20,78.33 574.70,78.77 C575.20,79.21 575.70,79.65 576.20,80.08 C576.70,80.52 577.20,80.95 577.70,81.38 C578.20,81.81 578.70,82.24 579.20,82.66 C579.70,83.08 580.20,83.51 580.70,83.92 C581.20,84.34 581.70,84.76 582.20,85.17 C582.70,85.58 583.20,85.99 583.70,86.39 C584.20,86.80 584.70,87.20 585.20,87.60 C585.70,88.00 586.20,88.39 586.70,88.78 C587.20,89.18 587.70,89.57 588.20,89.95 C588.70,90.34 589.20,90.72 589.70,91.10 C590.20,91.48 590.70,91.86 591.20,92.23 C591.70,92.61 592.20,92.98 592.70,93.34 C593.20,93.71 593.70,94.07 594.20,94.44 C594.70,94.80 595.20,95.15 595.70,95.51 C596.20,95.86 596.70,96.22 597.20,96.56 C597.70,96.91 598.20,97.26 598.70,97.60 C599.20,97.94 599.70,98.28 600.20,98.62 C600.70,98.96 601.20,99.29 601.70,99.62 C602.20,99.95 602.70,100.28 603.20,100.60 C603.70,100.93 604.20,101.25 604.70,101.56 C605.20,101.88 605.70,102.20 606.20,102.51 C606.70,102.82 607.20,103.13 607.70,103.44 C608.20,103.74 608.70,104.05 609.20,104.35 C609.70,104.65 610.20,104.94 610.70,105.24 C611.20,105.53 611.70,105.82 612.20,106.11 C612.70,106.40 613.20,106.68 613.70,106.97 C614.20,107.25 614.70,107.53 615.20,107.80 C615.70,108.08 616.20,108.35 616.70,108.62 C617.20,108.89 617.70,109.16 618.20,109.43 C618.70,109.69 619.20,109.95 619.70,110.21 C620.20,110.47 620.70,110.73 621.20,110.98 C621.70,111.23 622.20,111.48 622.70,111.73 C623.20,111.98 623.70,112.22 624.20,112.46 C624.70,112.70 625.20,112.94 625.70,113.18 C626.20,113.41 626.70,113.65 627.20,113.88 C627.70,114.11 628.20,114.33 628.70,114.56 C629.20,114.78 629.70,115.00 630.20,115.22 C630.70,115.44 631.20,115.66 631.70,115.87 C632.20,116.08 632.70,116.29 633.20,116.50 C633.70,116.71 634.20,116.91 634.70,117.11 C635.20,117.31 635.70,117.51 636.20,117.71 C636.70,117.91 637.20,118.10 637.70,118.29 C638.20,118.48 638.70,118.67 639.20,118.85 C639.70,119.04 640.20,119.22 640.70,119.40 C641.20,119.58 641.70,119.76 642.20,119.93 C642.70,120.10 643.20,120.27 643.70,120.44 C644.20,120.61 644.70,120.78 645.20,120.94 C645.70,121.10 646.20,121.26 646.70,121.42 C647.20,121.58 647.70,121.73 648.20,121.89 C648.70,122.04 649.20,122.19 649.70,122.34 C650.20,122.48 650.70,122.63 651.20,122.77 C651.70,122.91 652.20,123.05 652.70,123.19 C653.20,123.32 653.70,123.46 654.20,123.59 C654.70,123.72 655.20,123.85 655.70,123.97 C656.20,124.10 656.70,124.22 657.20,124.34 C657.70,124.46 658.20,124.58 658.70,124.69 C659.20,124.81 659.70,124.92 660.20,125.03 C660.70,125.14 661.20,125.25 661.70,125.35 C662.20,125.46 662.70,125.56 663.20,125.66 C663.70,125.76 664.20,125.86 664.70,125.95 C665.20,126.05 665.70,126.14 666.20,126.23 C666.70,126.32 667.20,126.40 667.70,126.49 C668.20,126.57 668.70,126.66 669.20,126.73 C669.70,126.81 670.20,126.89 670.70,126.96 C671.20,127.04 671.70,127.11 672.20,127.18 C672.70,127.25 673.20,127.32 673.70,127.38 C674.20,127.44 674.90,127.53 675.20,127.57 C675.50,127.60 675.45,127.59 675.50,127.60" class="dot"/>
<path d="M408.20,136.40 C408.45,136.45 409.20,136.57 409.70,136.69 C410.20,136.81 410.70,136.94 411.20,137.10 C411.70,137.26 412.20,137.44 412.70,137.64 C413.20,137.84 413.70,138.06 414.20,138.29 C414.70,138.53 415.20,138.79 415.70,139.07 C416.20,139.34 416.70,139.64 417.20,139.95 C417.70,140.26 418.20,140.59 418.70,140.94 C419.20,141.29 419.70,141.66 420.20,142.05 C420.70,142.43 421.20,142.83 421.70,143.25 C422.20,143.67 422.70,144.10 423.20,144.56 C423.70,145.01 424.20,145.48 424.70,145.96 C425.20,146.44 425.70,146.94 426.20,147.46 C426.70,147.97 427.20,148.50 427.70,149.05 C428.20,149.59 428.70,150.15 429.20,150.73 C429.70,151.30 430.20,151.89 430.70,152.49 C431.20,153.10 431.70,153.71 432.20,154.34 C432.70,154.97 433.20,155.61 433.70,156.27 C434.20,156.93 434.70,157.59 435.20,158.27 C435.70,158.96 436.20,159.65 436.70,160.35 C437.20,161.06 437.70,161.77 438.20,162.50 C438.70,163.23 439.20,163.97 439.70,164.72 C440.20,165.47 440.70,166.23 441.20,167.00 C441.70,167.77 442.20,168.55 442.70,169.34 C443.20,170.12 443.70,170.92 444.20,171.72 C444.70,172.51 445.20,173.31 445.70,174.11 C446.20,174.91 446.70,175.72 447.20,176.51 C447.70,177.31 448.20,178.10 448.70,178.89 C449.20,179.67 449.70,180.45 450.20,181.22 C450.70,181.99 451.20,182.75 451.70,183.50 C452.20,184.24 452.70,184.98 453.20,185.69 C453.70,186.41 454.20,187.11 454.70,187.79 C455.20,188.46 455.70,189.12 456.20,189.76 C456.70,190.39 457.20,191.01 457.70,191.60 C458.20,192.19 458.70,192.75 459.20,193.30 C459.70,193.84 460.20,194.36 460.70,194.85 C461.20,195.35 461.70,195.82 462.20,196.27 C462.70,196.72 463.20,197.14 463.70,197.55 C464.20,197.95 464.70,198.32 465.20,198.68 C465.70,199.03 466.20,199.36 466.70,199.66 C467.20,199.97 467.70,200.25 468.20,200.51 C468.70,200.76 469.20,200.99 469.70,201.20 C470.20,201.41 470.70,201.59 471.20,201.75 C471.70,201.91 472.20,202.04 472.70,202.15 C473.20,202.25 473.70,202.34 474.20,202.39 C474.70,202.45 475.20,202.48 475.70,202.49 C476.20,202.49 476.70,202.47 477.20,202.42 C477.70,202.37 478.20,202.30 478.70,202.20 C479.20,202.10 479.70,201.97 480.20,201.81 C480.70,201.66 481.20,201.47 481.70,201.26 C482.20,201.05 482.70,200.81 483.20,200.54 C483.70,200.28 484.20,199.98 484.70,199.66 C485.20,199.33 485.70,198.98 486.20,198.59 C486.70,198.21 487.20,197.80 487.70,197.36 C488.20,196.92 488.70,196.45 489.20,195.96 C489.70,195.47 490.20,194.95 490.70,194.40 C491.20,193.86 491.70,193.29 492.20,192.70 C492.70,192.11 493.20,191.50 493.70,190.87 C494.20,190.24 494.70,189.59 495.20,188.92 C495.70,188.25 496.20,187.55 496.70,186.85 C497.20,186.14 497.70,185.42 498.20,184.68 C498.70,183.95 499.20,183.19 499.70,182.43 C500.20,181.66 500.70,180.88 501.20,180.10 C501.70,179.31 502.20,178.50 502.70,177.70 C503.20,176.89 503.70,176.07 504.20,175.24 C504.70,174.41 505.20,173.58 505.70,172.74 C506.20,171.90 506.70,171.05 507.20,170.20 C507.70,169.35 508.20,168.49 508.70,167.62 C509.20,166.76 509.70,165.88 510.20,165.01 C510.70,164.13 511.20,163.24 511.70,162.35 C512.20,161.46 512.70,160.57 513.20,159.66 C513.70,158.76 514.20,157.85 514.70,156.94 C515.20,156.02 515.70,155.10 516.20,154.18 C516.70,153.25 517.20,152.32 517.70,151.38 C518.20,150.44 518.70,149.50 519.20,148.55 C519.70,147.60 520.20,146.65 520.70,145.69 C521.20,144.73 521.70,143.76 522.20,142.79 C522.70,141.82 523.20,140.84 523.70,139.86 C524.20,138.88 524.70,137.89 525.20,136.90 C525.70,135.90 526.20,134.90 526.70,133.90 C527.20,132.90 527.70,131.89 528.20,130.88 C528.70,129.86 529.20,128.84 529.70,127.82 C530.20,126.80 530.70,125.77 531.20,124.73 C531.70,123.70 532.20,122.66 532.70,121.62 C533.20,120.57 533.70,119.52 534.20,118.47 C534.70,117.42 535.20,116.36 535.70,115.30 C536.20,114.23 536.70,113.17 537.20,112.10 C537.70,111.03 538.20,109.96 538.70,108.89 C539.20,107.82 539.70,106.75 540.20,105.69 C540.70,104.62 541.20,103.56 541.70,102.50 C542.20,101.44 542.70,100.39 543.20,99.34 C543.70,98.29 544.20,97.25 544.70,96.22 C545.20,95.18 545.70,94.16 546.20,93.14 C546.70,92.13 547.20,91.13 547.70,90.14 C548.20,89.15 548.70,88.17 549.20,87.21 C549.70,86.25 550.20,85.30 550.70,84.37 C551.20,83.44 551.70,82.52 552.20,81.63 C552.70,80.74 553.20,79.86 553.70,79.01 C554.20,78.15 554.70,77.32 555.20,76.50 C555.70,75.68 556.20,74.88 556.70,74.10 C557.20,73.32 557.70,72.56 558.20,71.81 C558.70,71.07 559.20,70.34 559.70,69.62 C560.20,68.91 560.70,68.21 561.20,67.53 C561.70,66.84 562.20,66.17 562.70,65.52 C563.20,64.86 563.70,64.22 564.20,63.59 C564.70,62.96 565.20,62.34 565.70,61.74 C566.20,61.13 566.70,60.54 567.20,59.96 C567.70,59.37 568.20,58.80 568.70,58.24 C569.20,57.68 569.70,57.12 570.20,56.58 C570.70,56.04 571.20,55.51 571.70,54.98 C572.20,54.46 572.70,53.95 573.20,53.44 C573.70,52.94 574.20,52.45 574.70,51.97 C575.20,51.48 575.70,51.01 576.20,50.55 C576.70,50.08 577.20,49.63 577.70,49.19 C578.20,48.75 578.70,48.31 579.20,47.89 C579.70,47.47 580.20,47.05 580.70,46.65 C581.20,46.25 581.70,45.85 582.20,45.47 C582.70,45.08 583.20,44.71 583.70,44.35 C584.20,43.98 584.70,43.63 585.20,43.28 C585.70,42.94 586.20,42.61 586.70,42.28 C587.20,41.96 587.70,41.64 588.20,41.34 C588.70,41.03 589.20,40.74 589.70,40.45 C590.20,40.16 590.70,39.89 591.20,39.62 C591.70,39.36 592.20,39.10 592.70,38.85 C593.20,38.61 593.70,38.37 594.20,38.14 C594.70,37.92 595.20,37.70 595.70,37.49 C596.20,37.28 596.70,37.08 597.20,36.90 C597.70,36.71 598.20,36.53 598.70,36.36 C599.20,36.19 599.70,36.03 600.20,35.88 C600.70,35.73 601.20,35.59 601.70,35.46 C602.20,35.33 602.70,35.21 603.20,35.10 C603.70,34.99 604.20,34.89 604.70,34.79 C605.20,34.70 605.70,34.62 606.20,34.54 C606.70,34.47 607.20,34.40 607.70,34.34 C608.20,34.29 608.70,34.24 609.20,34.20 C609.70,34.16 610.20,34.13 610.70,34.10 C611.20,34.08 611.70,34.07 612.20,34.06 C612.70,34.05 613.20,34.05 613.70,34.06 C614.20,34.07 614.70,34.09 615.20,34.11 C615.70,34.14 616.20,34.17 616.70,34.21 C617.20,34.25 617.70,34.30 618.20,34.35 C618.70,34.41 619.20,34.47 619.70,34.54 C620.20,34.61 620.70,34.68 621.20,34.77 C621.70,34.85 622.20,34.94 622.70,35.04 C623.20,35.13 623.70,35.23 624.20,35.34 C624.70,35.45 625.20,35.57 625.70,35.69 C626.20,35.81 626.70,35.94 627.20,36.07 C627.70,36.21 628.20,36.35 628.70,36.49 C629.20,36.64 629.70,36.79 630.20,36.95 C630.70,37.10 631.20,37.27 631.70,37.43 C632.20,37.60 632.70,37.77 633.20,37.95 C633.70,38.13 634.20,38.31 634.70,38.50 C635.20,38.69 635.70,38.88 636.20,39.08 C636.70,39.28 637.20,39.48 637.70,39.69 C638.20,39.89 638.70,40.11 639.20,40.32 C639.70,40.54 640.20,40.76 640.70,40.98 C641.20,41.20 641.70,41.43 642.20,41.66 C642.70,41.89 643.20,42.13 643.70,42.37 C644.20,42.61 644.70,42.85 645.20,43.10 C645.70,43.34 646.20,43.59 646.70,43.85 C647.20,44.10 647.70,44.35 648.20,44.61 C648.70,44.87 649.20,45.13 649.70,45.40 C650.20,45.66 650.70,45.93 651.20,46.20 C651.70,46.47 652.20,46.74 652.70,47.02 C653.20,47.29 653.70,47.57 654.20,47.85 C654.70,48.13 655.20,48.41 655.70,48.69 C656.20,48.97 656.70,49.26 657.20,49.55 C657.70,49.83 658.20,50.12 658.70,50.41 C659.20,50.70 659.70,50.99 660.20,51.28 C660.70,51.58 661.20,51.87 661.70,52.16 C662.20,52.46 662.70,52.76 663.20,53.05 C663.70,53.35 664.20,53.65 664.70,53.94 C665.20,54.24 665.70,54.54 666.20,54.84 C666.70,55.14 667.20,55.44 667.70,55.74 C668.20,56.04 668.70,56.34 669.20,56.64 C669.70,56.94 670.20,57.24 670.70,57.54 C671.20,57.84 671.70,58.14 672.20,58.44 C672.70,58.74 673.20,59.03 673.70,59.33 C674.20,59.63 674.90,60.04 675.20,60.22 C675.50,60.40 675.45,60.37 675.50,60.40" class="dash"/>
<path d="M408.20,136.40 C408.45,136.43 409.20,136.48 409.70,136.57 C410.20,136.66 410.70,136.78 411.20,136.94 C411.70,137.09 412.20,137.28 412.70,137.49 C413.20,137.71 413.70,137.95 414.20,138.23 C414.70,138.50 415.20,138.80 415.70,139.13 C416.20,139.46 416.70,139.81 417.20,140.19 C417.70,140.57 418.20,140.97 418.70,141.40 C419.20,141.82 419.70,142.27 420.20,142.74 C420.70,143.21 421.20,143.71 421.70,144.22 C422.20,144.73 422.70,145.26 423.20,145.81 C423.70,146.36 424.20,146.93 424.70,147.51 C425.20,148.10 425.70,148.70 426.20,149.31 C426.70,149.93 427.20,150.56 427.70,151.20 C428.20,151.84 428.70,152.50 429.20,153.17 C429.70,153.83 430.20,154.51 430.70,155.20 C431.20,155.89 431.70,156.59 432.20,157.29 C432.70,158.00 433.20,158.71 433.70,159.43 C434.20,160.15 434.70,160.88 435.20,161.61 C435.70,162.34 436.20,163.08 436.70,163.81 C437.20,164.55 437.70,165.30 438.20,166.04 C438.70,166.78 439.20,167.53 439.70,168.27 C440.20,169.01 440.70,169.76 441.20,170.50 C441.70,171.24 442.20,171.98 442.70,172.71 C443.20,173.44 443.70,174.17 444.20,174.89 C444.70,175.61 445.20,176.32 445.70,177.03 C446.20,177.73 446.70,178.42 447.20,179.10 C447.70,179.78 448.20,180.45 448.70,181.10 C449.20,181.75 449.70,182.39 450.20,183.00 C450.70,183.62 451.20,184.22 451.70,184.80 C452.20,185.38 452.70,185.95 453.20,186.49 C453.70,187.03 454.20,187.55 454.70,188.04 C455.20,188.54 455.70,189.02 456.20,189.47 C456.70,189.92 457.20,190.35 457.70,190.75 C458.20,191.16 458.70,191.54 459.20,191.89 C459.70,192.25 460.20,192.58 460.70,192.88 C461.20,193.18 461.70,193.45 462.20,193.70 C462.70,193.94 463.20,194.16 463.70,194.35 C464.20,194.54 464.70,194.70 465.20,194.83 C465.70,194.96 466.20,195.07 466.70,195.14 C467.20,195.22 467.70,195.27 468.20,195.30 C468.70,195.32 469.20,195.32 469.70,195.29 C470.20,195.26 470.70,195.21 471.20,195.13 C471.70,195.05 472.20,194.95 472.70,194.82 C473.20,194.69 473.70,194.54 474.20,194.36 C474.70,194.19 475.20,193.99 475.70,193.77 C476.20,193.55 476.70,193.30 477.20,193.03 C477.70,192.77 478.20,192.48 478.70,192.17 C479.20,191.86 479.70,191.53 480.20,191.18 C480.70,190.83 481.20,190.45 481.70,190.06 C482.20,189.67 482.70,189.26 483.20,188.83 C483.70,188.40 484.20,187.95 484.70,187.48 C485.20,187.01 485.70,186.52 486.20,186.02 C486.70,185.51 487.20,184.99 487.70,184.45 C488.20,183.91 488.70,183.35 489.20,182.78 C489.70,182.21 490.20,181.62 490.70,181.02 C491.20,180.41 491.70,179.79 492.20,179.16 C492.70,178.53 493.20,177.88 493.70,177.21 C494.20,176.55 494.70,175.87 495.20,175.18 C495.70,174.49 496.20,173.79 496.70,173.07 C497.20,172.35 497.70,171.62 498.20,170.88 C498.70,170.14 499.20,169.39 499.70,168.63 C500.20,167.86 500.70,167.09 501.20,166.30 C501.70,165.52 502.20,164.72 502.70,163.91 C503.20,163.11 503.70,162.29 504.20,161.47 C504.70,160.64 505.20,159.81 505.70,158.97 C506.20,158.13 506.70,157.28 507.20,156.42 C507.70,155.56 508.20,154.70 508.70,153.83 C509.20,152.96 509.70,152.08 510.20,151.19 C510.70,150.31 511.20,149.42 511.70,148.52 C512.20,147.63 512.70,146.72 513.20,145.82 C513.70,144.91 514.20,144.00 514.70,143.09 C515.20,142.17 515.70,141.25 516.20,140.33 C516.70,139.41 517.20,138.49 517.70,137.56 C518.20,136.63 518.70,135.70 519.20,134.77 C519.70,133.84 520.20,132.91 520.70,131.97 C521.20,131.04 521.70,130.11 522.20,129.17 C522.70,128.24 523.20,127.30 523.70,126.36 C524.20,125.43 524.70,124.49 525.20,123.56 C525.70,122.63 526.20,121.70 526.70,120.77 C527.20,119.84 527.70,118.91 528.20,117.98 C528.70,117.06 529.20,116.13 529.70,115.21 C530.20,114.29 530.70,113.38 531.20,112.46 C531.70,111.55 532.20,110.64 532.70,109.74 C533.20,108.84 533.70,107.94 534.20,107.04 C534.70,106.15 535.20,105.26 535.70,104.38 C536.20,103.50 536.70,102.63 537.20,101.76 C537.70,100.89 538.20,100.02 538.70,99.17 C539.20,98.31 539.70,97.46 540.20,96.62 C540.70,95.78 541.20,94.94 541.70,94.12 C542.20,93.29 542.70,92.47 543.20,91.65 C543.70,90.84 544.20,90.03 544.70,89.24 C545.20,88.44 545.70,87.65 546.20,86.87 C546.70,86.09 547.20,85.31 547.70,84.55 C548.20,83.78 548.70,83.03 549.20,82.28 C549.70,81.53 550.20,80.79 550.70,80.06 C551.20,79.33 551.70,78.61 552.20,77.90 C552.70,77.19 553.20,76.49 553.70,75.80 C554.20,75.11 554.70,74.42 555.20,73.75 C555.70,73.08 556.20,72.42 556.70,71.77 C557.20,71.12 557.70,70.47 558.20,69.84 C558.70,69.21 559.20,68.59 559.70,67.98 C560.20,67.37 560.70,66.78 561.20,66.19 C561.70,65.60 562.20,65.03 562.70,64.46 C563.20,63.90 563.70,63.35 564.20,62.81 C564.70,62.27 565.20,61.74 565.70,61.22 C566.20,60.70 566.70,60.20 567.20,59.71 C567.70,59.22 568.20,58.74 568.70,58.27 C569.20,57.81 569.70,57.35 570.20,56.91 C570.70,56.47 571.20,56.04 571.70,55.63 C572.20,55.21 572.70,54.81 573.20,54.42 C573.70,54.03 574.20,53.65 574.70,53.28 C575.20,52.91 575.70,52.56 576.20,52.21 C576.70,51.87 577.20,51.53 577.70,51.21 C578.20,50.88 578.70,50.57 579.20,50.26 C579.70,49.96 580.20,49.66 580.70,49.37 C581.20,49.09 581.70,48.81 582.20,48.54 C582.70,48.27 583.20,48.01 583.70,47.76 C584.20,47.51 584.70,47.26 585.20,47.02 C585.70,46.78 586.20,46.55 586.70,46.33 C587.20,46.11 587.70,45.89 588.20,45.69 C588.70,45.48 589.20,45.28 589.70,45.08 C590.20,44.89 590.70,44.71 591.20,44.53 C591.70,44.35 592.20,44.18 592.70,44.02 C593.20,43.86 593.70,43.71 594.20,43.56 C594.70,43.41 595.20,43.28 595.70,43.15 C596.20,43.02 596.70,42.90 597.20,42.78 C597.70,42.67 598.20,42.56 598.70,42.47 C599.20,42.37 599.70,42.28 600.20,42.20 C600.70,42.12 601.20,42.05 601.70,41.98 C602.20,41.92 602.70,41.86 603.20,41.81 C603.70,41.76 604.20,41.72 604.70,41.69 C605.20,41.66 605.70,41.63 606.20,41.61 C606.70,41.59 607.20,41.58 607.70,41.58 C608.20,41.58 608.70,41.58 609.20,41.59 C609.70,41.60 610.20,41.62 610.70,41.65 C611.20,41.67 611.70,41.70 612.20,41.74 C612.70,41.78 613.20,41.82 613.70,41.88 C614.20,41.93 614.70,41.99 615.20,42.05 C615.70,42.12 616.20,42.19 616.70,42.26 C617.20,42.34 617.70,42.42 618.20,42.51 C618.70,42.60 619.20,42.70 619.70,42.80 C620.20,42.90 620.70,43.00 621.20,43.12 C621.70,43.23 622.20,43.35 622.70,43.47 C623.20,43.59 623.70,43.72 624.20,43.85 C624.70,43.99 625.20,44.12 625.70,44.27 C626.20,44.41 626.70,44.56 627.20,44.71 C627.70,44.87 628.20,45.02 628.70,45.19 C629.20,45.35 629.70,45.52 630.20,45.69 C630.70,45.86 631.20,46.04 631.70,46.22 C632.20,46.40 632.70,46.58 633.20,46.77 C633.70,46.96 634.20,47.15 634.70,47.35 C635.20,47.54 635.70,47.74 636.20,47.95 C636.70,48.15 637.20,48.36 637.70,48.57 C638.20,48.78 638.70,48.99 639.20,49.21 C639.70,49.43 640.20,49.65 640.70,49.87 C641.20,50.10 641.70,50.32 642.20,50.55 C642.70,50.78 643.20,51.01 643.70,51.25 C644.20,51.48 644.70,51.72 645.20,51.96 C645.70,52.20 646.20,52.45 646.70,52.69 C647.20,52.94 647.70,53.18 648.20,53.43 C648.70,53.68 649.20,53.94 649.70,54.19 C650.20,54.44 650.70,54.70 651.20,54.96 C651.70,55.21 652.20,55.47 652.70,55.73 C653.20,55.99 653.70,56.25 654.20,56.52 C654.70,56.78 655.20,57.05 655.70,57.31 C656.20,57.58 656.70,57.84 657.20,58.11 C657.70,58.38 658.20,58.65 658.70,58.92 C659.20,59.19 659.70,59.46 660.20,59.73 C660.70,60.00 661.20,60.27 661.70,60.54 C662.20,60.82 662.70,61.09 663.20,61.36 C663.70,61.63 664.20,61.91 664.70,62.18 C665.20,62.45 665.70,62.73 666.20,63.00 C666.70,63.27 667.20,63.54 667.70,63.81 C668.20,64.09 668.70,64.36 669.20,64.63 C669.70,64.90 670.20,65.17 670.70,65.44 C671.20,65.71 671.70,65.98 672.20,66.25 C672.70,66.52 673.20,66.78 673.70,67.05 C674.20,67.31 674.90,67.68 675.20,67.84 C675.50,68.00 675.45,67.97 675.50,68.00" class="red"/>
<rect x="50.40" y="6.60" width="267.40" height="205.85" class="sp"/>
<line x1="50.40" y1="212.45" x2="50.40" y2="215.25" class="tk"/>
<text transform="translate(50.40,230.20) scale(1,1.07)" class="tl" text-anchor="middle">0.5</text>
<line x1="103.88" y1="212.45" x2="103.88" y2="215.25" class="tk"/>
<text transform="translate(103.88,230.20) scale(1,1.07)" class="tl" text-anchor="middle">1.0</text>
<line x1="157.36" y1="212.45" x2="157.36" y2="215.25" class="tk"/>
<text transform="translate(157.36,230.20) scale(1,1.07)" class="tl" text-anchor="middle">1.5</text>
<line x1="210.84" y1="212.45" x2="210.84" y2="215.25" class="tk"/>
<text transform="translate(210.84,230.20) scale(1,1.07)" class="tl" text-anchor="middle">2.0</text>
<line x1="264.32" y1="212.45" x2="264.32" y2="215.25" class="tk"/>
<text transform="translate(264.32,230.20) scale(1,1.07)" class="tl" text-anchor="middle">2.5</text>
<line x1="317.80" y1="212.45" x2="317.80" y2="215.25" class="tk"/>
<text transform="translate(317.80,230.20) scale(1,1.07)" class="tl" text-anchor="middle">3.0</text>
<line x1="47.60" y1="9.70" x2="50.40" y2="9.70" class="tk"/>
<text transform="translate(39.10,15.35) scale(1,1.07)" class="tl" text-anchor="end">2.5</text>
<line x1="47.60" y1="34.08" x2="50.40" y2="34.08" class="tk"/>
<text transform="translate(39.10,39.73) scale(1,1.07)" class="tl" text-anchor="end">2.4</text>
<line x1="47.60" y1="58.46" x2="50.40" y2="58.46" class="tk"/>
<text transform="translate(39.10,64.11) scale(1,1.07)" class="tl" text-anchor="end">2.3</text>
<line x1="47.60" y1="82.84" x2="50.40" y2="82.84" class="tk"/>
<text transform="translate(39.10,88.49) scale(1,1.07)" class="tl" text-anchor="end">2.2</text>
<line x1="47.60" y1="107.22" x2="50.40" y2="107.22" class="tk"/>
<text transform="translate(39.10,112.87) scale(1,1.07)" class="tl" text-anchor="end">2.1</text>
<line x1="47.60" y1="131.60" x2="50.40" y2="131.60" class="tk"/>
<text transform="translate(39.10,137.25) scale(1,1.07)" class="tl" text-anchor="end">2.0</text>
<line x1="47.60" y1="155.98" x2="50.40" y2="155.98" class="tk"/>
<text transform="translate(39.10,161.63) scale(1,1.07)" class="tl" text-anchor="end">1.9</text>
<line x1="47.60" y1="180.36" x2="50.40" y2="180.36" class="tk"/>
<text transform="translate(39.10,186.01) scale(1,1.07)" class="tl" text-anchor="end">1.8</text>
<line x1="47.60" y1="204.74" x2="50.40" y2="204.74" class="tk"/>
<text transform="translate(39.10,210.39) scale(1,1.07)" class="tl" text-anchor="end">1.7</text>
<rect x="408.20" y="5.80" width="267.30" height="206.30" class="sp"/>
<line x1="408.20" y1="212.10" x2="408.20" y2="214.90" class="tk"/>
<text transform="translate(408.20,230.20) scale(1,1.07)" class="tl" text-anchor="middle">0.5</text>
<line x1="461.66" y1="212.10" x2="461.66" y2="214.90" class="tk"/>
<text transform="translate(461.66,230.20) scale(1,1.07)" class="tl" text-anchor="middle">1.0</text>
<line x1="515.12" y1="212.10" x2="515.12" y2="214.90" class="tk"/>
<text transform="translate(515.12,230.20) scale(1,1.07)" class="tl" text-anchor="middle">1.5</text>
<line x1="568.58" y1="212.10" x2="568.58" y2="214.90" class="tk"/>
<text transform="translate(568.58,230.20) scale(1,1.07)" class="tl" text-anchor="middle">2.0</text>
<line x1="622.04" y1="212.10" x2="622.04" y2="214.90" class="tk"/>
<text transform="translate(622.04,230.20) scale(1,1.07)" class="tl" text-anchor="middle">2.5</text>
<line x1="675.50" y1="212.10" x2="675.50" y2="214.90" class="tk"/>
<text transform="translate(675.50,230.20) scale(1,1.07)" class="tl" text-anchor="middle">3.0</text>
<line x1="405.40" y1="5.79" x2="408.20" y2="5.79" class="tk"/>
<text transform="translate(397.40,11.44) scale(1,1.07)" class="tl" text-anchor="end">2.3</text>
<line x1="405.40" y1="38.46" x2="408.20" y2="38.46" class="tk"/>
<text transform="translate(397.40,44.11) scale(1,1.07)" class="tl" text-anchor="end">2.2</text>
<line x1="405.40" y1="71.13" x2="408.20" y2="71.13" class="tk"/>
<text transform="translate(397.40,76.78) scale(1,1.07)" class="tl" text-anchor="end">2.1</text>
<line x1="405.40" y1="103.80" x2="408.20" y2="103.80" class="tk"/>
<text transform="translate(397.40,109.45) scale(1,1.07)" class="tl" text-anchor="end">2.0</text>
<line x1="405.40" y1="136.47" x2="408.20" y2="136.47" class="tk"/>
<text transform="translate(397.40,142.12) scale(1,1.07)" class="tl" text-anchor="end">1.9</text>
<line x1="405.40" y1="169.14" x2="408.20" y2="169.14" class="tk"/>
<text transform="translate(397.40,174.79) scale(1,1.07)" class="tl" text-anchor="end">1.8</text>
<line x1="405.40" y1="201.81" x2="408.20" y2="201.81" class="tk"/>
<text transform="translate(397.40,207.46) scale(1,1.07)" class="tl" text-anchor="end">1.7</text>
<rect x="165.10" y="11.60" width="148.00" height="43.80" rx="3.5" class="lg"/>
<line x1="168.30" y1="19.00" x2="188.00" y2="19.00" style="fill:none;stroke:#2e2e2e;stroke-width:1.6;stroke-dasharray:1.6 2.6"/>
<line x1="168.10" y1="33.15" x2="187.40" y2="33.15" style="fill:none;stroke:#505050;stroke-width:1.4;stroke-dasharray:6.1 2.4"/>
<line x1="168.00" y1="46.80" x2="188.20" y2="46.80" style="fill:none;stroke:#ff2424;stroke-width:1.6"/>
<text x="212.40" y="24.00" class="lt">CMB:0.0005nt</text>
<text x="188.70" y="36.50" class="lt">Relativistic Kompaneets</text>
<text x="216.90" y="51.40" class="lt">New-TGDRE</text>
<rect x="522.20" y="162.50" width="148.90" height="44.20" rx="3.5" class="lg"/>
<line x1="525.90" y1="170.00" x2="546.00" y2="170.00" style="fill:none;stroke:#2e2e2e;stroke-width:1.7;stroke-dasharray:1.6 2.65"/>
<line x1="526.10" y1="184.15" x2="544.60" y2="184.15" style="fill:none;stroke:#222;stroke-width:1.9;stroke-dasharray:6.0 2.4"/>
<line x1="525.50" y1="198.00" x2="545.60" y2="198.00" style="fill:none;stroke:#ff2424;stroke-width:1.7"/>
<text x="569.60" y="174.70" class="lt">CMB:0.0005nt</text>
<text x="545.90" y="187.60" class="lt">Relativistic Kompaneets</text>
<text x="573.60" y="202.10" class="lt">New-TGDRE</text>
<text x="183.20" y="246.9" class="at" text-anchor="middle">Frequency [GHZ]</text>
<text x="541.00" y="246.9" class="at" text-anchor="middle">Frequency [GHZ]</text>
<text transform="translate(10.6,110.8) rotate(-90)" class="at" text-anchor="middle">Exit H1 detector</text>
<text transform="translate(369.8,108.4) rotate(-90)" class="at" text-anchor="middle">Exit H1 detector</text>
</svg>
</body></html>
